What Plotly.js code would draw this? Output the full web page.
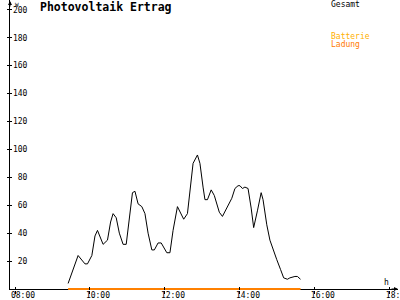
<!DOCTYPE html>
<html><head><meta charset="utf-8">
<script src="https://cdn.plot.ly/plotly-3.0.1.min.js"></script>
<style>html,body{margin:0;padding:0;background:#fff}#c{width:400px;height:300px}</style>
</head><body><div id="c"></div>
<script>
const day = '2024-06-01 ';
const gesamtTimes = ['09:25','09:41','09:52','09:56','10:03','10:08','10:12','10:21','10:28','10:33','10:37','10:42','10:47','10:53','10:58','11:04','11:08','11:12','11:17','11:23','11:28','11:33','11:39','11:43','11:49','11:54','11:59','12:03','12:08','12:13','12:20','12:30','12:36','12:40','12:45','12:52','12:56','13:01','13:04','13:08','13:14','13:19','13:23','13:27','13:32','13:39','13:47','13:52','13:57','14:00','14:04','14:08','14:13','14:18','14:22','14:28','14:34','14:37','14:43','14:48','14:53','14:59','15:05','15:10','15:16','15:20','15:28','15:32','15:37'];
const gesamtValues = [4,24,18,18,24,38,42,32,35,48,54,51,40,32,32,53,69,70,61,59,54,40,28,28,33,33,29,26,26,42,59,50,54,70,90,96,90,73,64,64,71,67,60,55,52,58,65,72,74,74,72,73,72,58,44,56,69,64,46,35,28,21,14,8,7,8,9,9,7];
const batterieTimes = ['09:25','15:37'];
const batterieValues = [0,0];
const xTickTimes = ['08:00','10:00','12:00','14:00','16:00','18:00'];
const yTickVals = [20,40,60,80,100,120,140,160,180,200];

const fnt = {family:'DejaVu Sans Mono', size:8, color:'#000'};
const xr = [day+'07:52', day+'18:13'];
const yr = [-0.7, 207];
const traces = [
  {x: gesamtTimes.map(t=>day+t), y: gesamtValues, type:'scatter', mode:'lines',
   line:{color:'#000', width:1}, xaxis:'x', yaxis:'y', hoverinfo:'skip'},
  {x: batterieTimes.map(t=>day+t), y: batterieValues, type:'scatter', mode:'lines',
   line:{color:'#FF8000', width:2}, xaxis:'x2', yaxis:'y2', hoverinfo:'skip'}
];
const layout = {
  width:400, height:300, margin:{l:10,r:2,t:0,b:10},
  paper_bgcolor:'#fff', plot_bgcolor:'#fff', showlegend:false,
  title:{text:'Photovoltaik Ertrag', font:{family:'DejaVu Sans Mono', size:11.5, color:'#000', weight:'bold'},
         xref:'container', x:0.1, xanchor:'left', yref:'container', y:0.977, yanchor:'middle'},
  xaxis:{type:'date', range:xr, tickvals:xTickTimes.map(t=>day+t), tickformat:'%H:%M',
         ticks:'inside', ticklen:3, tickcolor:'#000', showline:false,
         showgrid:false, zeroline:false, tickfont:fnt, ticklabelshift:8, ticklabelstandoff:-1,
         ticklabeloverflow:'allow'},
  xaxis2:{type:'date', overlaying:'x', matches:'x', tickvals:xTickTimes.map(t=>day+t),
          ticks:'outside', ticklen:3, tickcolor:'#000', showticklabels:false, showline:false,
          showgrid:false, zeroline:false, side:'bottom'},
  yaxis:{range:yr, tickvals:yTickVals, ticks:'outside', ticklen:2, tickcolor:'#000',
         showline:true, linecolor:'#000', linewidth:1, showgrid:false,
         zeroline:true, zerolinecolor:'#000', zerolinewidth:1,
         tickfont:fnt, ticklabelstandoff:-22, ticklabeloverflow:'allow'},
  yaxis2:{overlaying:'y', matches:'y', tickvals:yTickVals, ticks:'inside', ticklen:2,
          tickcolor:'#000', showticklabels:false, showline:false, showgrid:false, zeroline:false, side:'left'},
  annotations:[
    {text:'Gesamt', xref:'paper', yref:'paper', x:0.822, y:0.986, xanchor:'left', yanchor:'middle',
     showarrow:false, font:{family:'DejaVu Sans Mono', size:8, color:'#000'}},
    {text:'Batterie', xref:'paper', yref:'paper', x:0.822, y:(290-36)/290, xanchor:'left', yanchor:'middle',
     showarrow:false, font:{family:'DejaVu Sans Mono', size:8, color:'#FFB000'}},
    {text:'Ladung', xref:'paper', yref:'paper', x:0.822, y:(290-45)/290, xanchor:'left', yanchor:'middle',
     showarrow:false, font:{family:'DejaVu Sans Mono', size:8, color:'#FF7A00'}},
    {text:'W', xref:'paper', yref:'paper', x:(17-10)/388, y:1, xanchor:'center', yanchor:'top',
     showarrow:false, borderpad:0, font:{family:'DejaVu Sans Mono', size:6, color:'#000'}},
    {text:'h', xref:'paper', yref:'paper', x:(386-10)/388, y:(290-282)/290, xanchor:'center', yanchor:'middle',
     showarrow:false, font:{family:'DejaVu Sans Mono', size:8, color:'#000'}},
    {text:'', xref:'paper', yref:'paper', x:1, y:0.0034, ax:-8, ay:0, axref:'pixel', ayref:'pixel',
     showarrow:true, arrowhead:2, arrowsize:0.8, arrowwidth:1, arrowcolor:'#000'},
    {text:'', xref:'paper', yref:'paper', x:0, y:1, ax:0, ay:8, axref:'pixel', ayref:'pixel',
     showarrow:true, arrowhead:2, arrowsize:0.8, arrowwidth:1, arrowcolor:'#000'}
  ]
};
Plotly.newPlot('c', traces, layout, {displayModeBar:false, staticPlot:true});
</script></body></html>
